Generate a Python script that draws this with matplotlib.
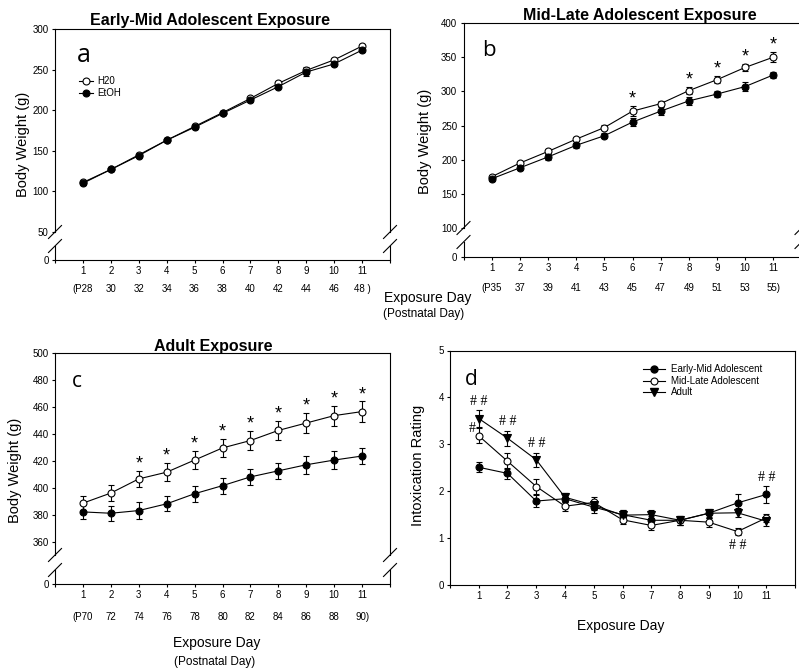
import numpy as np
import matplotlib
matplotlib.use('Agg')
import matplotlib.pyplot as plt
from matplotlib.lines import Line2D

plt.rcParams['font.family'] = ['Liberation Sans', 'DejaVu Sans']

W, H = 799, 669

days = np.arange(1, 12)

# panel a: early-mid adolescent exposure (body weight, g)
a_h2o = [111, 127, 145, 163, 180, 197, 214.5, 233, 249, 262, 279]
a_h2o_err = [2, 2, 2, 2, 2, 2, 2, 2.5, 4, 2, 2.5]
a_etoh = [110, 127, 144, 163, 179, 196, 212.5, 229, 247, 257, 274]
a_etoh_err = [2, 2, 2, 2, 2, 2, 2, 2, 5, 2.5, 2.5]
a_pnd = ['(P28', '30', '32', '34', '36', '38', '40', '42', '44', '46', '48 )']

# panel b: mid-late adolescent exposure
b_h2o = [175, 195, 212, 230, 247, 271, 282, 301, 317, 335, 350]
b_h2o_err = [3, 3, 3, 3, 4, 7, 4, 5, 5, 5, 7]
b_etoh = [172, 188, 204, 221, 235, 255, 271, 286, 296, 307, 324]
b_etoh_err = [3, 3, 4, 4, 4, 6, 6, 6, 5, 6, 5]
b_pnd = ['(P35', '37', '39', '41', '43', '45', '47', '49', '51', '53', '55)']
b_stars = [6, 8, 9, 10, 11]

# panel c: adult exposure
c_h2o = [388.5, 396, 406.5, 411.5, 420.5, 429.5, 435, 442.5, 448, 453.5, 456.5]
c_h2o_err = [5.5, 6, 6, 6.5, 6.5, 7, 7, 7, 7.5, 7.5, 7.5]
c_etoh = [382, 381, 383, 388, 395.5, 401.5, 408, 412.5, 417, 420.5, 423.5]
c_etoh_err = [5.5, 5.5, 6, 5.5, 6, 6, 6, 6, 6.5, 6.5, 6]
c_pnd = ['(P70', '72', '74', '76', '78', '80', '82', '84', '86', '88', '90)']
c_stars = [3, 4, 5, 6, 7, 8, 9, 10, 11]

# panel d: intoxication rating
d_early = [2.51, 2.38, 1.79, 1.84, 1.66, 1.50, 1.38, 1.38, 1.53, 1.75, 1.93]
d_early_err = [0.11, 0.12, 0.13, 0.12, 0.12, 0.1, 0.1, 0.1, 0.1, 0.19, 0.19]
d_midlate = [3.18, 2.64, 2.10, 1.68, 1.76, 1.39, 1.27, 1.38, 1.34, 1.14, 1.43]
d_midlate_err = [0.16, 0.17, 0.15, 0.1, 0.12, 0.1, 0.1, 0.1, 0.1, 0.07, 0.08]
d_adult = [3.55, 3.13, 2.67, 1.87, 1.70, 1.49, 1.50, 1.38, 1.53, 1.54, 1.36]
d_adult_err = [0.18, 0.16, 0.15, 0.1, 0.1, 0.1, 0.1, 0.1, 0.1, 0.1, 0.1]

LW = 0.8
fig = plt.figure(figsize=(W / 100, H / 100), dpi=100)


def px_axes(left, top, right, bottom):
    return fig.add_axes([left / W, 1 - bottom / H, (right - left) / W, (bottom - top) / H])


def ftext(x, y, s, **kw):
    fig.text(x / W, 1 - y / H, s, **kw)


def slash(x, y):
    d = 6.5
    fig.add_artist(Line2D([(x - d) / W, (x + d) / W], [1 - (y + d) / H, 1 - (y - d) / H],
                          transform=fig.transFigure, color='black', lw=LW))


def style(ax):
    for s in ax.spines.values():
        s.set_linewidth(LW)
    ax.tick_params(direction='out', length=2.5, width=LW, labelsize=7, pad=2)


def series(ax, x, y, err, filled, marker='o', ms=5):
    ax.errorbar(x, y, yerr=err, fmt='-' + marker, color='black', lw=LW,
                mfc='black' if filled else 'white', mec='black', mew=LW, ms=ms,
                ecolor='black', elinewidth=LW, capsize=2.5, capthick=LW, zorder=3)


def broken_panel(left, right, top, brk_top, brk_bot, bottom, ylim, yticks, pnd, row2_off):
    up = px_axes(left, top, right, brk_top)
    lo = px_axes(left, brk_bot, right, bottom)
    for ax in (up, lo):
        style(ax)
        ax.set_xlim(0, 12)
    up.set_ylim(*ylim)
    up.set_yticks(yticks)
    up.spines['bottom'].set_visible(False)
    up.tick_params(axis='x', bottom=False, labelbottom=False)
    lo.set_ylim(0, 1)
    lo.set_yticks([0])
    lo.spines['top'].set_visible(False)
    lo.set_xticks(range(13))
    lo.set_xticklabels([''] + [str(d) for d in days] + [''])
    for d, lab in zip(days, pnd):
        lo.annotate(lab, xy=(d, 0), xycoords=('data', 'axes fraction'),
                    xytext=(0, -row2_off), textcoords='offset points',
                    ha='center', va='center', fontsize=7)
    for x in (left, right):
        slash(x, brk_top)
        slash(x, brk_bot)
    return up, lo


def stars(ax, star_days, mean, err):
    for d in star_days:
        ax.annotate('*', xy=(d, mean[d - 1] + err[d - 1]), xytext=(0, 5),
                    textcoords='offset points', ha='center', va='center', fontsize=13)


# ---- panel a
ua, la = broken_panel(55, 390, 29, 232, 246, 260, (50, 300), range(50, 301, 50), a_pnd, 21)
series(ua, days, a_h2o, a_h2o_err, False)
series(ua, days, a_etoh, a_etoh_err, True)
ftext(210, 25, 'Early-Mid Adolescent Exposure', ha='center', va='baseline', fontsize=11.5, fontweight='bold')
ftext(77, 62, 'a', family='Open Sans', fontsize=18, va='baseline')
ftext(23, 144, 'Body Weight (g)', rotation=90, ha='center', va='center', fontsize=10.5)
handles = [Line2D([], [], color='black', lw=LW, marker='o', mfc='white', mec='black', ms=5, mew=LW),
           Line2D([], [], color='black', lw=LW, marker='o', mfc='black', mec='black', ms=5, mew=LW)]
ua.legend(handles, ['H20', 'EtOH'], loc='upper left', bbox_to_anchor=(79 / W, 1 - 76 / H),
          bbox_transform=fig.transFigure, frameon=False, fontsize=7, handlelength=1.4,
          handletextpad=0.5, labelspacing=0.2, borderpad=0, borderaxespad=0)

# ---- panel b
ub, lb = broken_panel(463.5, 801.5, 23, 228, 242, 257, (100, 400), range(100, 401, 50), b_pnd, 22.5)
series(ub, days, b_h2o, b_h2o_err, False)
series(ub, days, b_etoh, b_etoh_err, True)
stars(ub, b_stars, b_h2o, b_h2o_err)
ftext(640, 20, 'Mid-Late Adolescent Exposure', ha='center', va='baseline', fontsize=11.5, fontweight='bold')
ftext(482, 56, 'b', family='Open Sans', fontsize=16, va='baseline')
ftext(425, 141, 'Body Weight (g)', rotation=90, ha='center', va='center', fontsize=10.5)
ftext(428, 298, 'Exposure Day', ha='center', va='center', fontsize=10)
ftext(424, 314, '(Postnatal Day)', ha='center', va='center', fontsize=8.5)

# ---- panel c
uc, lc = broken_panel(55, 390, 353, 555, 570, 584, (350, 500), range(360, 501, 20), c_pnd, 24)
series(uc, days, c_h2o, c_h2o_err, False)
series(uc, days, c_etoh, c_etoh_err, True)
stars(uc, c_stars, c_h2o, c_h2o_err)
ftext(213, 351, 'Adult Exposure', ha='center', va='baseline', fontsize=11.5, fontweight='bold')
ftext(72, 387, 'c', family='Open Sans', fontsize=15, va='baseline')
ftext(15, 470, 'Body Weight (g)', rotation=90, ha='center', va='center', fontsize=10.5)
ftext(217, 643, 'Exposure Day', ha='center', va='center', fontsize=10)
ftext(215, 662, '(Postnatal Day)', ha='center', va='center', fontsize=8.5)

# ---- panel d
ad = px_axes(450, 350.5, 795, 585)
style(ad)
ad.set_xlim(0, 12)
ad.set_ylim(0, 5)
ad.set_yticks(range(6))
ad.set_xticks(range(13))
ad.set_xticklabels([''] + [str(d) for d in days] + [''])
series(ad, days, d_early, d_early_err, True)
series(ad, days, d_midlate, d_midlate_err, False)
series(ad, days, d_adult, d_adult_err, True, marker='v', ms=5.5)

hash_kw = dict(textcoords='offset points', ha='center', va='center', fontsize=10, family='Liberation Serif')
for d in (1, 2, 3):
    ad.annotate('# #', xy=(d, d_adult[d - 1] + d_adult_err[d - 1]), xytext=(0, 6.5), **hash_kw)
ad.annotate('#', xy=(1, d_midlate[0] + d_midlate_err[0]), xytext=(-5, 0), **hash_kw)
ad.annotate('# #', xy=(11, d_early[10] + d_early_err[10]), xytext=(0, 6), **hash_kw)
ad.annotate('# #', xy=(10, d_midlate[9] - d_midlate_err[9]), xytext=(0, -8), **hash_kw)

ftext(465, 385, 'd', family='Open Sans', fontsize=15, va='baseline')
ftext(418, 465, 'Intoxication Rating', rotation=90, ha='center', va='center', fontsize=10.5)
ftext(621, 626, 'Exposure Day', ha='center', va='center', fontsize=10)
handles_d = [Line2D([], [], color='black', lw=LW, marker='o', mfc='black', mec='black', ms=5),
             Line2D([], [], color='black', lw=LW, marker='o', mfc='white', mec='black', ms=5, mew=LW),
             Line2D([], [], color='black', lw=LW, marker='v', mfc='black', mec='black', ms=5.5)]
ad.legend(handles_d, ['Early-Mid Adolescent', 'Mid-Late Adolescent', 'Adult'], loc='upper left',
          bbox_to_anchor=(643 / W, 1 - 364.5 / H), bbox_transform=fig.transFigure, frameon=False,
          fontsize=7, handlelength=2.3, handletextpad=0.6, labelspacing=0.15, borderpad=0,
          borderaxespad=0)

fig.savefig('out.png', dpi=100)
